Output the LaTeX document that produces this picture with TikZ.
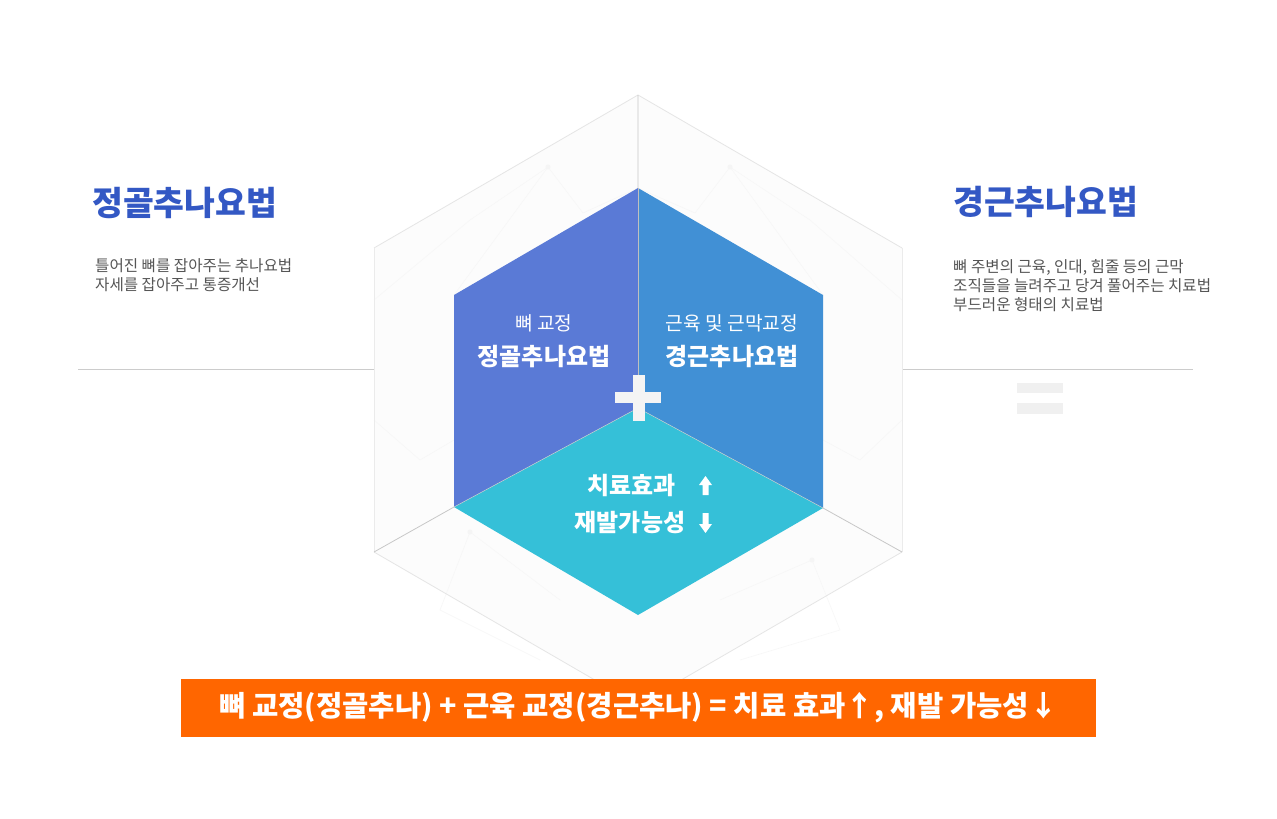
\documentclass[tikz,border=0pt]{standalone}
\usepackage{fontspec}
\newfontfamily\kr{Noto Sans CJK KR}
\definecolor{titleblue}{HTML}{3358C4}
\definecolor{leftface}{HTML}{5A7AD6}
\definecolor{rightface}{HTML}{4190D5}
\definecolor{cyanface}{HTML}{35C0D8}
\definecolor{barorange}{HTML}{FF6600}
\definecolor{subgray}{HTML}{555555}
\definecolor{plusc}{HTML}{F4F4F4}
\definecolor{eqc}{HTML}{F0F0F0}
\tikzset{
  hexedge/.style={draw=black!10, line width=0.8pt},
  hexside/.style={draw=black!8, line width=0.8pt},
  hexlink/.style={draw=black!22, line width=0.8pt},
  web/.style={draw=black!3, line width=0.6pt},
  hline/.style={draw=black!20, line width=0.8pt},
  titletext/.style={font=\kr\bfseries\fontsize{33.5}{38}\selectfont, text=titleblue, inner sep=0pt, anchor=west},
  subtext/.style={font=\kr\fontsize{15.6}{18}\selectfont, text=subgray, inner sep=0pt, anchor=west},
  facesm/.style={font=\kr\fontsize{19.2}{22}\selectfont, text=white, inner sep=0pt},
  facebig/.style={font=\kr\bfseries\fontsize{24}{28}\selectfont, text=white, inner sep=0pt},
  bartext/.style={font=\kr\bfseries\fontsize{28.6}{32}\selectfont, text=white, fill=barorange, minimum width=915pt, minimum height=58pt, inner sep=0pt},
}
\begin{document}
\begin{tikzpicture}[x=1pt,y=-1pt]
\useasboundingbox (0,0) rectangle (1277,819);
\fill[white] (0,0) rectangle (1277,819);
% outer hexagon
\coordinate (OT) at (638,95);
\coordinate (OLU) at (374,248);
\coordinate (OLD) at (374,552);
\coordinate (OB) at (638,705);
\coordinate (ORD) at (902,552);
\coordinate (ORU) at (902,248);
% inner hexagon
\coordinate (IT) at (638,188);
\coordinate (ILU) at (454,295);
\coordinate (ILD) at (454,507);
\coordinate (IB) at (638,615);
\coordinate (IRD) at (823,508);
\coordinate (IRU) at (823,295);
\coordinate (IC) at (638,408);
\fill[black!1] (OT)--(OLU)--(OLD)--(OB)--(ORD)--(ORU)--cycle;
% faint web texture
\draw[web] (548,167)--(454,295) (548,167)--(583,213)--(638,188) (548,167)--(470,220)--(374,300)
  (730,167)--(823,295) (730,167)--(695,213)--(638,188) (730,167)--(810,220)--(902,300)
  (374,420)--(420,460)--(454,440) (902,420)--(860,460)--(823,440)
  (470,532)--(440,610)--(540,660) (470,532)--(560,600) (812,560)--(840,630)--(740,660) (812,560)--(720,600);
\fill[black!4] (548,167) circle (2.5) (730,167) circle (2.5) (470,532) circle (2.5) (812,560) circle (2.5);
\draw[hexedge] (OLU)--(OT)--(ORU);
\draw[hexside] (OLU)--(OLD) (ORU)--(ORD);
\draw[hexedge] (OLD)--(OB)--(ORD);
\draw[hexlink] (OT)--(IT) (ILD)--(OLD) (IRD)--(ORD);
% faces
\fill[leftface] (IT)--(ILU)--(ILD)--(IC)--cycle;
\fill[rightface] (IT)--(IRU)--(IRD)--(IC)--cycle;
\fill[cyanface] (IC)--(ILD)--(IB)--(IRD)--cycle;
\draw[black!25, line width=0.6pt] (IT)--(IC);
\draw[black!20, line width=0.5pt] (ILD)--(IC)--(IRD);
% plus sign
\fill[plusc] (615,392) rectangle (661,403);
\fill[plusc] (632.5,375) rectangle (644.5,421);
% face texts
\node[facesm] (lsub) at (544,323) {뼈 교정};
\node[facebig] (lname) at (544,357) {정골추나요법};
\node[facesm] (rsub) at (732,323) {근육 및 근막교정};
\node[facebig] (rname) at (732,357) {경근추나요법};
\node[facebig] (eff) at (631.5,485) {치료효과};
\node[facebig] (rec) at (630,523) {재발가능성};
% thick arrows
\fill[white] (705.5,476)--(712,485)--(708.5,485)--(708.5,495)--(702.5,495)--(702.5,485)--(699,485)--cycle;
\fill[white] (705.5,533)--(712,524)--(708.5,524)--(708.5,513)--(702.5,513)--(702.5,524)--(699,524)--cycle;
% side texts
\node[titletext] (ltitle) at (92,203) {정골추나요법};
\node[subtext] (ll1) at (95,266) {틀어진 뼈를 잡아주는 추나요법};
\node[subtext] (ll2) at (95,285) {자세를 잡아주고 통증개선};
\node[titletext] (rtitle) at (953,202) {경근추나요법};
\node[subtext] (rl1) at (953,267) {뼈 주변의 근육, 인대, 힘줄 등의 근막};
\node[subtext] (rl2) at (953,286) {조직들을 늘려주고 당겨 풀어주는 치료법};
\node[subtext] (rl3) at (953,305) {부드러운 형태의 치료법};
% horizontal lines
\coordinate (HL1) at (78,369);
\coordinate (HL2) at (374,369);
\coordinate (HR1) at (903,369);
\coordinate (HR2) at (1193,369);
\draw[hline] (HL1)--(HL2) (HR1)--(HR2);
% equals sign
\fill[eqc] (1017,383) rectangle (1063,393);
\fill[eqc] (1017,403) rectangle (1063,414);
% bottom bar
\node[bartext] (bar) at (638.5,708) {뼈 교정(정골추나) + 근육 교정(경근추나) = 치료 효과↑, 재발 가능성↓};
\end{tikzpicture}
\end{document}
